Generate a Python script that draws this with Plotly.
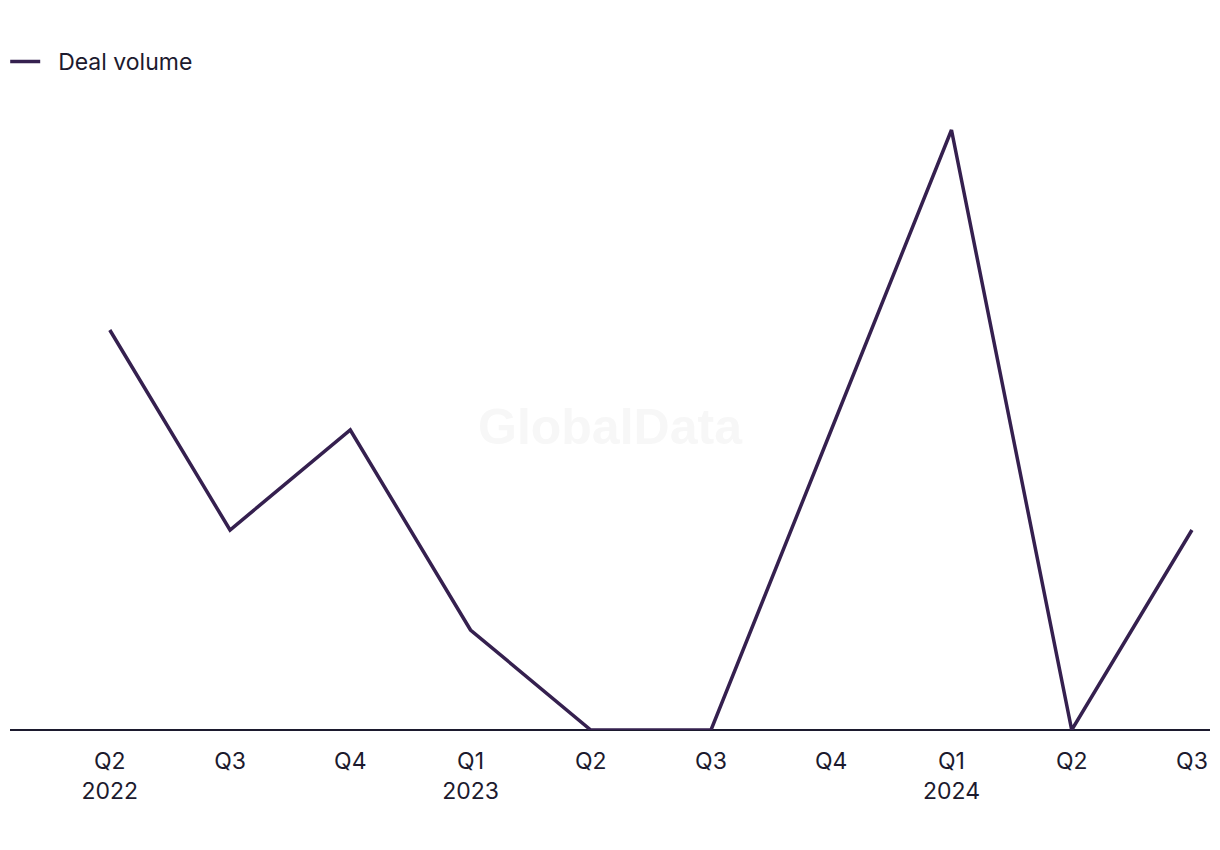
import plotly.graph_objects as go

quarters = ["Q2 2022", "Q3 2022", "Q4 2022", "Q1 2023", "Q2 2023", "Q3 2023",
            "Q4 2023", "Q1 2024", "Q2 2024", "Q3 2024"]
tick_labels = ["Q2<br>2022", "Q3", "Q4", "Q1<br>2023", "Q2", "Q3",
               "Q4", "Q1<br>2024", "Q2", "Q3"]
deal_volume = [4, 2, 3, 1, 0, 0, 3, 6, 0, 2]

x_idx = list(range(len(quarters)))

fig = go.Figure()
fig.add_trace(go.Scatter(
    x=x_idx, y=deal_volume, mode="lines", name="\u00a0\u00a0Deal volume",
    line=dict(color="#35204f", width=3.5),
    hovertext=quarters,
))

font_family = "Inter, Roboto, sans-serif"

fig.update_layout(
    width=1220, height=850,
    margin=dict(l=10, r=10, t=80, b=120, autoexpand=False),
    paper_bgcolor="white", plot_bgcolor="white",
    showlegend=True,
    legend=dict(x=-0.004, y=0.953, xref="paper", yref="container", xanchor="left", yanchor="top",
                orientation="h", font=dict(family=font_family, size=23, color="#1c1a2e"),
                bgcolor="rgba(0,0,0,0)", itemwidth=30),
    font=dict(family=font_family, color="#1c1a2e"),
)

fig.update_xaxes(
    tickmode="array", tickvals=x_idx, ticktext=tick_labels,
    range=[-0.83, 9.15], showgrid=False, zeroline=False,
    showline=False, ticks="outside", ticklen=10, tickcolor="rgba(0,0,0,0)",
    tickfont=dict(family=font_family, size=23, color="#1c1a2e"),
    automargin=False,
)
fig.update_yaxes(
    range=[0, 6.5], showgrid=False, zeroline=True, zerolinecolor="#1c1a2e",
    zerolinewidth=2, showticklabels=False, showline=False, ticks="",
    automargin=False,
)

fig.add_annotation(
    text="<b>GlobalData</b>", x=0.5, y=(730 - 427) / 650, xref="paper", yref="paper",
    showarrow=False, font=dict(family="Liberation Sans, Arial, sans-serif", size=50, color="#f7f7f7"),
)

fig.write_html("out.html")
